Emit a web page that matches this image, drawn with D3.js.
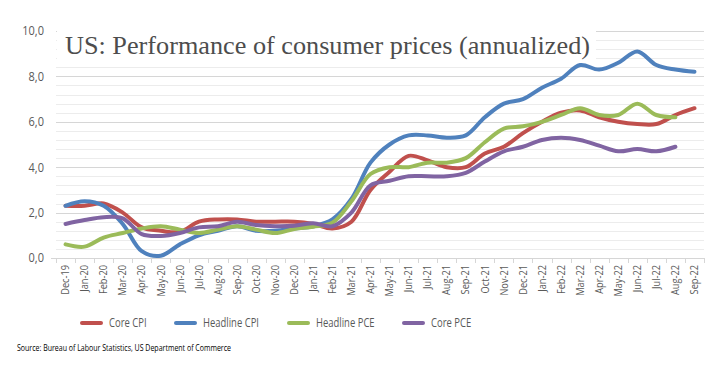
<!DOCTYPE html>
<html><head><meta charset="utf-8">
<script src="https://cdn.jsdelivr.net/npm/d3@7"></script>
<style>
body{margin:0;background:#fff;}
svg{display:block;}
</style></head>
<body>
<svg id="chart" width="727" height="365"></svg>
<script>
const months = ["Dec-19","Jan-20","Feb-20","Mar-20","Apr-20","May-20","Jun-20","Jul-20","Aug-20","Sep-20","Oct-20","Nov-20","Dec-20","Jan-21","Feb-21","Mar-21","Apr-21","May-21","Jun-21","Jul-21","Aug-21","Sep-21","Oct-21","Nov-21","Dec-21","Jan-22","Feb-22","Mar-22","Apr-22","May-22","Jun-22","Jul-22","Aug-22","Sep-22"];
const coreCPI = [2.3,2.3,2.4,2.0,1.35,1.2,1.15,1.6,1.7,1.7,1.6,1.6,1.6,1.5,1.3,1.6,3.0,3.8,4.5,4.3,4.0,4.0,4.6,4.9,5.5,6.0,6.4,6.5,6.2,6.0,5.9,5.9,6.3,6.6];
const headlineCPI = [2.3,2.5,2.3,1.5,0.3,0.1,0.6,1.0,1.2,1.4,1.2,1.2,1.3,1.4,1.7,2.6,4.2,5.0,5.4,5.4,5.3,5.4,6.2,6.8,7.0,7.5,7.9,8.5,8.3,8.6,9.1,8.5,8.3,8.2];
const headlinePCE = [0.6,0.5,0.9,1.1,1.3,1.4,1.25,1.1,1.25,1.4,1.25,1.1,1.28,1.38,1.55,2.5,3.7,4.0,4.0,4.2,4.2,4.4,5.1,5.7,5.8,6.0,6.3,6.6,6.3,6.3,6.8,6.3,6.2,null];
const corePCE = [1.5,1.67,1.8,1.75,1.05,0.97,1.1,1.35,1.4,1.6,1.45,1.4,1.42,1.53,1.4,2.0,3.2,3.4,3.6,3.6,3.6,3.75,4.25,4.7,4.9,5.2,5.3,5.2,4.95,4.7,4.8,4.7,4.9,null];
const yTicks = [0,2,4,6,8,10];
const seriesNames = ["Core CPI","Headline CPI","Headline PCE","Core PCE"];
const seriesColors = ["#C0504D","#4F81BD","#9BBB59","#8064A2"];
const seriesData = [coreCPI, headlineCPI, headlinePCE, corePCE];

const svg = d3.select("#chart");
const pLeft = 56, pRight = 704, pTop = 31, pBottom = 258;
const SANS = "'Open Sans', 'Noto Sans', sans-serif";
const x = d3.scaleBand().domain(months).range([pLeft, pRight]);
const y = d3.scaleLinear().domain([0, 10]).range([pBottom, pTop]);

// gridlines: minor every 0.4, major every 2
const minor = d3.range(0, 10.01, 0.4).filter(v => Math.abs(v/2 - Math.round(v/2)) > 1e-6);
svg.append("g").selectAll("line").data(minor).join("line")
  .attr("x1", pLeft).attr("x2", pRight)
  .attr("y1", d => Math.round(y(d)) + 0.5).attr("y2", d => Math.round(y(d)) + 0.5)
  .attr("stroke", "#ECECEC").attr("stroke-width", 1);
svg.append("g").selectAll("line").data(yTicks.filter(d => d > 0)).join("line")
  .attr("x1", pLeft).attr("x2", pRight)
  .attr("y1", d => Math.round(y(d)) + 0.5).attr("y2", d => Math.round(y(d)) + 0.5)
  .attr("stroke", "#D6D6D6").attr("stroke-width", 1);

// y labels (horizontally condensed to mimic a narrow face)
const fy = 0.88;
svg.append("g").selectAll("text").data(yTicks).join("text")
  .attr("transform", d => `translate(44,${y(d)}) scale(${fy},1)`)
  .attr("dy", "0.35em")
  .attr("text-anchor", "end")
  .attr("font-family", SANS)
  .attr("font-size", 12.5).attr("fill", "#595959")
  .text(d => d3.format(".1f")(d).replace(".", ","));
svg.append("line").attr("x1", 51).attr("x2", pLeft).attr("y1", pBottom + 0.5).attr("y2", pBottom + 0.5).attr("stroke", "#D6D6D6");

// x axis
const fx = 0.88;
const xAxis = d3.axisBottom(x).tickSize(0).tickPadding(0);
const gx = svg.append("g").attr("transform", `translate(0,${pBottom})`).call(xAxis);
gx.select(".domain").remove();
gx.selectAll("text")
  .attr("transform", `rotate(-90) scale(${fx},1)`)
  .attr("x", -7 / fx).attr("y", 0).attr("dy", "0.35em")
  .attr("text-anchor", "end")
  .attr("font-family", SANS)
  .attr("font-size", 10.5).attr("fill", "#595959");
svg.append("line").attr("x1", pLeft).attr("x2", pRight).attr("y1", pBottom + 0.5).attr("y2", pBottom + 0.5).attr("stroke", "#D6D6D6");
const bounds = months.map(m => x(m)).concat([pRight]);
svg.append("g").selectAll("line").data(bounds).join("line")
  .attr("x1", d => Math.round(d) + 0.5).attr("x2", d => Math.round(d) + 0.5)
  .attr("y1", pBottom).attr("y2", pBottom + 5).attr("stroke", "#D6D6D6");

// title box
svg.append("rect").attr("x", 57).attr("y", 27).attr("width", 539).attr("height", 36).attr("fill", "#fff");
svg.append("text").attr("x", 65).attr("y", 54)
  .attr("font-family", "'Liberation Serif', serif").attr("font-size", 26).attr("fill", "#4D4D4D")
  .attr("textLength", 525).attr("lengthAdjust", "spacingAndGlyphs")
  .text("US: Performance of consumer prices (annualized)");

// lines
const line = d3.line()
  .defined(d => d != null)
  .x((d, i) => x(months[i]) + x.bandwidth() / 2)
  .y(d => y(d))
  .curve(d3.curveCatmullRom.alpha(0.5));
svg.append("g").selectAll("path").data(seriesData).join("path")
  .attr("d", d => line(d))
  .attr("fill", "none")
  .attr("stroke", (d, i) => seriesColors[i])
  .attr("stroke-width", 4)
  .attr("stroke-linecap", "round")
  .attr("stroke-linejoin", "round");

// legend
const fl = 0.74;
const legendX = [82, 176, 289, 404];
const lg = svg.append("g").selectAll("g").data(seriesNames).join("g")
  .attr("transform", (d, i) => `translate(${legendX[i]},323)`);
lg.append("line").attr("x1", 0).attr("x2", 19).attr("y1", 0).attr("y2", 0)
  .attr("stroke", (d, i) => seriesColors[i]).attr("stroke-width", 4).attr("stroke-linecap", "round");
lg.append("text").attr("transform", `translate(27,0) scale(${fl},1)`).attr("dy", "0.35em")
  .attr("font-family", SANS)
  .attr("font-size", 12.8).attr("fill", "#595959").text(d => d);

// source
svg.append("text").attr("x", 17).attr("y", 351)
  .attr("font-family", SANS)
  .attr("font-size", 9.6).attr("fill", "#000")
  .attr("textLength", 214).attr("lengthAdjust", "spacingAndGlyphs")
  .text("Source: Bureau of Labour Statistics, US Department of Commerce");
</script>
</body></html>
